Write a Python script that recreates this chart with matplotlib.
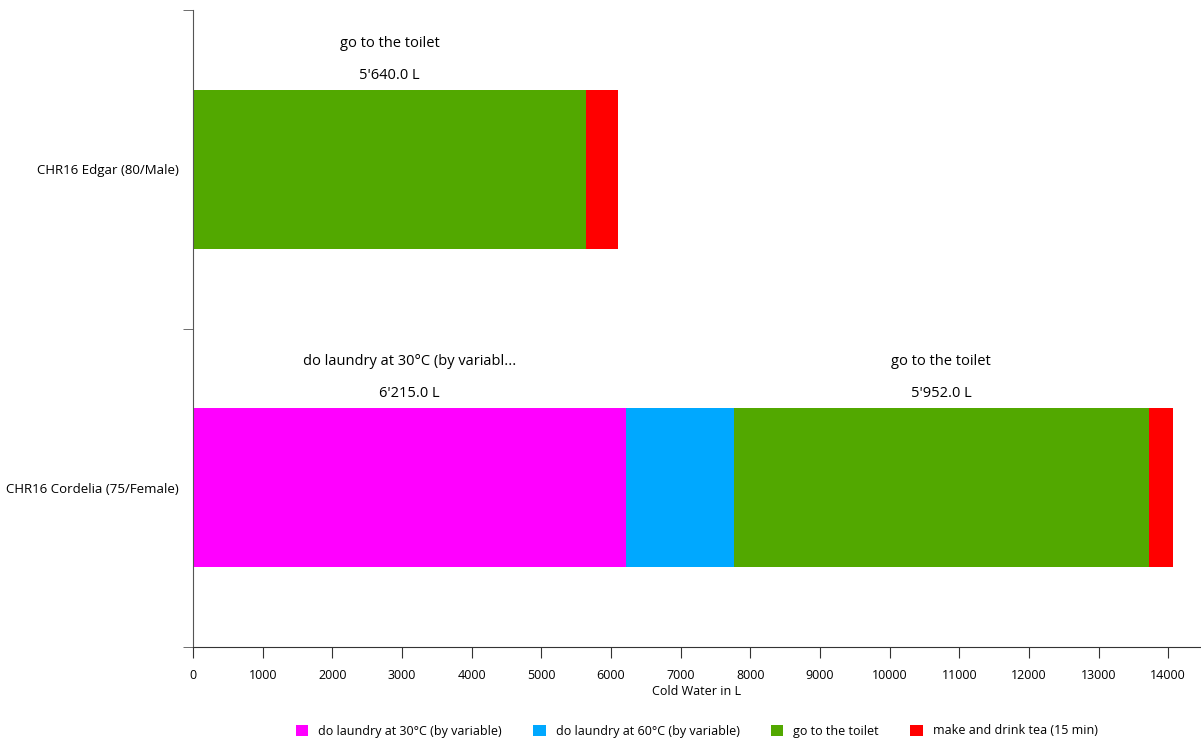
import matplotlib
matplotlib.use("Agg")
import matplotlib.pyplot as plt
import numpy as np
from matplotlib.patches import Patch
from matplotlib.ticker import FixedLocator

plt.rcParams['font.family'] = ['Open Sans', 'DejaVu Sans']

persons = ["CHR16 Edgar (80/Male)", "CHR16 Cordelia (75/Female)"]
activities = ["do laundry at 30°C (by variable)", "do laundry at 60°C (by variable)",
              "go to the toilet", "make and drink tea (15 min)"]
colors = ["#FF00FF", "#00A8FF", "#52A800", "#FF0000"]
# values per activity: [Edgar, Cordelia]
laundry30 = [0, 6215.0]
laundry60 = [0, 1550.0]
toilet = [5640.0, 5952.0]
tea = [465.0, 350.0]
series = [laundry30, laundry60, toilet, tea]
label_threshold = 3000

def fmt(v):
    return f"{v:,.1f}".replace(",", "'") + " L"

def short(s, n=30):
    return s if len(s) <= n else s[:n] + "..."

fig = plt.figure(figsize=(12.01, 7.40), dpi=100)
ax = fig.add_axes([193/1201, 1-647/740, 1-193/1201, (647-10)/740])

y = np.arange(len(persons))
left = np.zeros(len(persons))
for name, vals, c in zip(activities, series, colors):
    vals = np.array(vals)
    ax.barh(y, vals, left=left, height=0.5, color=c, edgecolor='none')
    for i, v in enumerate(vals):
        if v > label_threshold:
            xc = left[i] + v / 2
            ax.annotate(fmt(v), (xc, y[i] - 0.25), xytext=(0, 5), textcoords='offset points',
                        ha='center', va='bottom', fontsize=10.5)
            ax.annotate(short(name), (xc, y[i] - 0.25), xytext=(0, 28), textcoords='offset points',
                        ha='center', va='bottom', fontsize=10.5)
    left = left + vals

ax.set_ylim(len(persons) - 0.5, -0.5)
ax.set_xlim(0, 14470)
ax.set_yticks(y)
ax.set_yticklabels(persons, fontsize=9.5)
ax.yaxis.set_minor_locator(FixedLocator([-0.5, 0.5, 1.5]))
ax.tick_params(axis='y', which='major', length=0, pad=10)
ax.tick_params(axis='y', which='minor', length=7, color='#555555')
ax.set_xticks(np.arange(0, 14001, 1000))
ax.tick_params(axis='x', length=8, labelsize=9, color='#333333', pad=8)
ax.set_xlabel("Cold Water in L", fontsize=9, labelpad=2)
for s in ['top', 'right']:
    ax.spines[s].set_visible(False)
ax.spines['left'].set_color('#555555')
ax.spines['bottom'].set_color('#333333')

handles = [Patch(facecolor=c, edgecolor='none', label=a) for a, c in zip(activities, colors)]
fig.legend(handles=handles, loc='center', bbox_to_anchor=(0.58, 1-731/740), ncol=4,
           frameon=False, fontsize=9, handlelength=1.0, handleheight=1.0,
           columnspacing=2.5, handletextpad=0.8)

fig.savefig("out.png", dpi=100)
